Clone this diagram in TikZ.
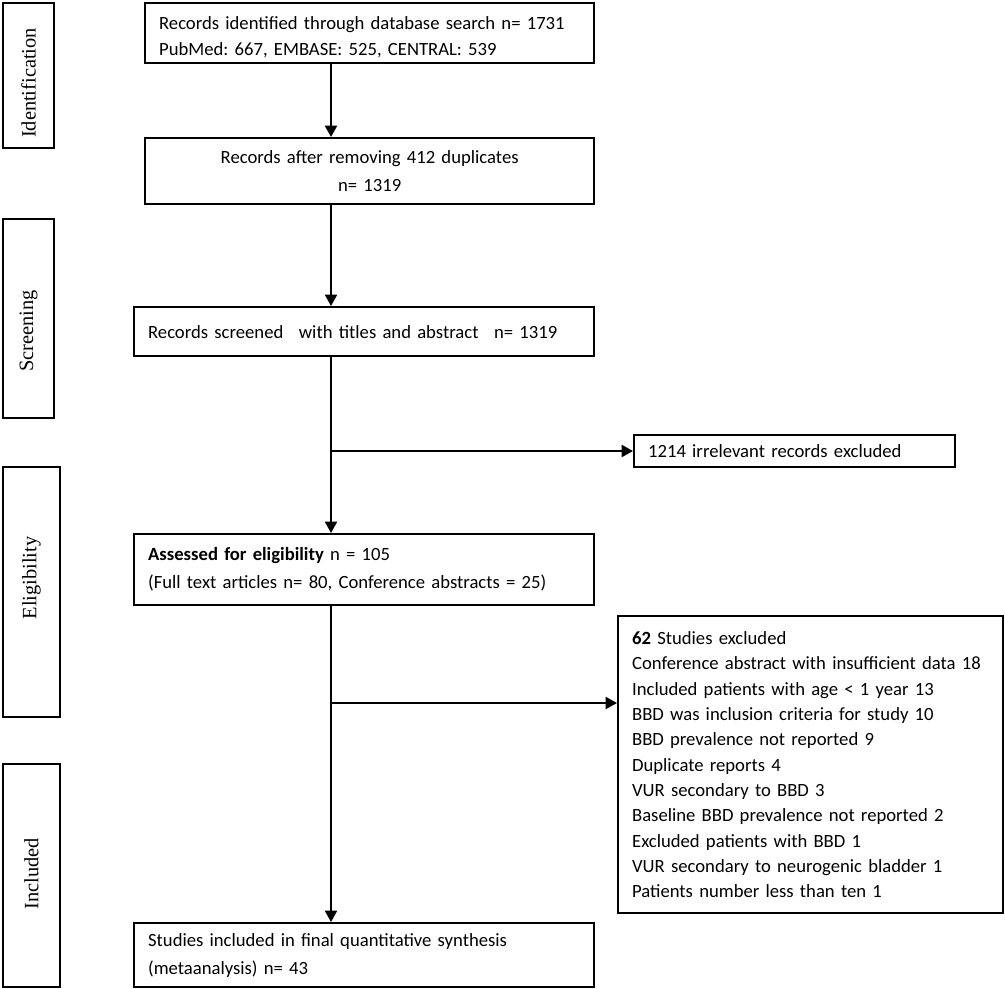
\documentclass[tikz,border=0pt]{standalone}
\usepackage{fontspec}
\setmainfont{Carlito}
\newfontfamily\phasefont{Liberation Serif}
\usetikzlibrary{arrows.meta}
\frenchspacing

\begin{document}
\begin{tikzpicture}[x=0.75pt,y=-0.75pt,
    flowbox/.style={draw, line width=1.7pt, inner xsep=10.5pt, inner ysep=0pt,
        anchor=north west, align=left, font=\fontsize{14}{21}\selectfont},
    phasebox/.style={draw, line width=1.5pt, anchor=north west, inner sep=0pt},
    phase/.style={rotate=90, inner sep=0pt, font=\phasefont\fontsize{15.3}{18}\selectfont},
    flow/.style={line width=1.5pt, -{Triangle[length=8.5pt,width=9pt]}}]
    \useasboundingbox (0,0) rectangle (1005,988);
    % Phase boxes on the left
    \foreach \nm/\bw/\btop/\bbot/\bmid/\txt in {idph/51/2/147/83/Identification,
        scrph/51/218/417/331/Screening, eliph/57/466/716/578/Eligibility,
        incph/57/763/986/874/Included} {
        \node (\nm) [phasebox, minimum width=\bw*0.75pt, minimum height=(\bbot-\btop)*0.75pt] at (2,\btop) {};
        \node[phase] at (\bw/2+3,\bmid) {\txt};
    }
    % Main boxes
    \node (found) [flowbox, text width=315.75pt, minimum height=45pt,
        font=\fontsize{14}{19.5}\selectfont] at (144,2)
        {\rule{0pt}{16pt}Records identified through database search n= 1731\\PubMed: 667, EMBASE: 525, CENTRAL: 539};
    \node (dedup) [flowbox, text width=315.75pt, minimum height=49.5pt, align=center] at (144,137)
        {Records after removing 412 duplicates\\n= 1319};
    \node (screen) [flowbox, text width=324pt, minimum height=36.75pt] at (133,306)
        {Records screened\hspace{7pt} with titles and abstract\hspace{7pt} n= 1319};
    \node (assess) [flowbox, text width=324pt, minimum height=53.25pt] at (133,533)
        {\textbf{Assessed for eligibility} n = 105\\(Full text articles n= 80, Conference abstracts = 25)};
    \node (final) [flowbox, text width=324pt, minimum height=48pt] at (133,922)
        {Studies included in final quantitative synthesis\\(metaanalysis) n= 43};
    % Exclusion boxes
    \node (irrel) [flowbox, text width=219.75pt, minimum height=24pt] at (633,434)
        {1214 irrelevant records excluded};
    \node (dropped) [flowbox, text width=267.75pt, minimum height=222.75pt,
        font=\fontsize{14}{19}\selectfont] at (617,615)
        {\textbf{62} Studies excluded\\Conference abstract with insufficient data 18\\Included patients with age < 1 year 13\\BBD was inclusion criteria for study 10\\BBD prevalence not reported 9\\Duplicate reports 4\\VUR secondary to BBD 3\\Baseline BBD prevalence not reported 2\\Excluded patients with BBD 1\\VUR secondary to neurogenic bladder 1\\Patients number less than ten 1};
    % Add arrows
    \coordinate (spine) at (331,0);
    \coordinate (split1) at (331,451);
    \coordinate (split2) at (331,703);
    \draw[flow] (found.south -| spine) -- (dedup.north -| spine);
    \draw[flow] (dedup.south -| spine) -- (screen.north -| spine);
    \draw[flow] (screen.south -| spine) -- (assess.north -| spine);
    \draw[flow] (split1) -- (split1 -| irrel.west);
    \draw[flow] (assess.south -| spine) -- (final.north -| spine);
    \draw[flow] (split2) -- (split2 -| dropped.west);
\end{tikzpicture}
\end{document}
